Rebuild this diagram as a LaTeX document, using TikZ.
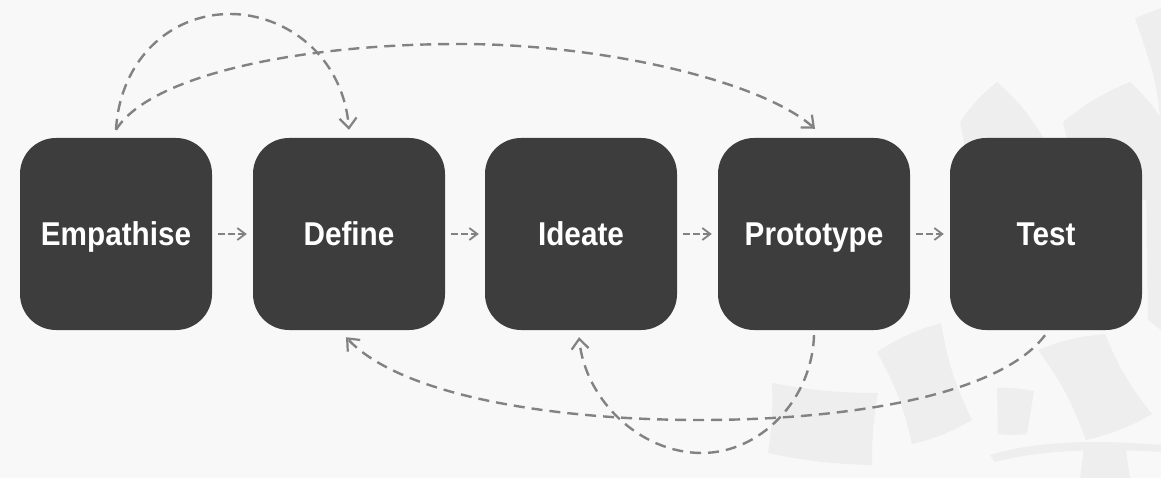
\documentclass[tikz,border=0pt]{standalone}
\usepackage{fontspec}
\newfontfamily\boxfont{Liberation Sans}[FakeStretch=0.9]
\usetikzlibrary{arrows.meta,calc}
\definecolor{bgcol}{HTML}{F8F8F8}
\definecolor{wmcol}{HTML}{EEEEEE}
\definecolor{boxcol}{HTML}{3D3D3D}
\definecolor{linecol}{HTML}{828282}
\tikzset{
  stage/.style={fill=boxcol, rounded corners=36pt, minimum width=192pt, minimum height=192pt,
    inner sep=0pt, text=white, text height=23pt, text depth=0pt,
    font=\boxfont\bfseries\fontsize{33}{36}\selectfont},
  loopline/.style={draw=linecol, line width=2.4pt, dash pattern=on 11pt off 7pt,
    -{Straight Barb[length=10pt,width=17pt,line width=2.2pt]}},
  stepline/.style={draw=linecol, line width=2pt, dash pattern=on 7pt off 3pt,
    -{Straight Barb[length=8pt,width=12pt,line width=1.8pt]}, shorten <=6pt, shorten >=6pt},
  wm/.style={fill=wmcol, draw=none}
}
\begin{document}
\begin{tikzpicture}[x=1pt,y=-1pt]
\fill[bgcol] (0,0) rectangle (1161,478);
\useasboundingbox (0,0) rectangle (1161,478);
% faint watermark shapes
\fill[wm] (1135,18) -- (1161,8) -- (1161,125) .. controls (1156,80) .. (1135,18) -- cycle;
\fill[wm] (960,122) to[bend left=8] (997,82) to[bend left=8] (1043,137) -- (1045,200) -- (975,200) -- cycle;
\fill[wm] (1063,122) to[bend left=8] (1130,82) to[bend left=6] (1161,118) -- (1161,200) -- (1080,200) -- cycle;
\fill[wm] (1146,175) -- (1161,165) -- (1161,330) -- (1148,320) -- cycle;
\fill[wm] (1038,350) to[bend left=8] (1105,334) to[bend right=8] (1152,414) to[bend left=8] (1086,440) to[bend right=8] cycle;
\fill[wm] (997,388) to[bend left=6] (1034,391) -- (1027,434) to[bend left=6] (998,434) -- cycle;
\fill[wm] (877,352) to[bend left=8] (941,323) to[bend right=8] (972,420) to[bend left=8] (912,444) to[bend right=8] cycle;
\fill[wm] (772,383) to[bend right=5] (878,393) to[bend right=5] (872,465) to[bend left=5] (768,453) to[bend right=5] cycle;
\fill[wm] (1084,448) -- (1126,450) -- (1130,478) -- (1080,478) -- cycle;
\fill[wm] (990,455) .. controls (1040,440) and (1100,440) .. (1161,445) -- (1161,452) .. controls (1100,448) and (1040,450) .. (995,462) -- cycle;

% stages
\node[stage] (e) at (116,234) {Empathise};
\node[stage] (d) at (349,234) {Define};
\node[stage] (i) at (581,234) {Ideate};
\node[stage] (p) at (814,234) {Prototype};
\node[stage] (t) at (1046,234) {Test};

% step arrows
\draw[stepline] (e) -- (d);
\draw[stepline] (d) -- (i);
\draw[stepline] (i) -- (p);
\draw[stepline] (p) -- (t);

% loops above
\draw[loopline] ([yshift=8pt]e.north) .. controls (120,60) and (170,14) .. (230,14)
   .. controls (285,14) and (343,55) .. ([yshift=8pt]d.north);
\draw[loopline] ([yshift=8pt]e.north) .. controls (150,75) and (300,44) .. (460,44)
   .. controls (600,44) and (760,80) .. ([xshift=1pt,yshift=9pt]p.north);

% loops below
\draw[loopline] ([xshift=-1pt,yshift=-5pt]t.south) .. controls (1000,395) and (850,420) .. (700,420)
   .. controls (550,420) and (400,395) .. ([xshift=-3pt,yshift=-7pt]d.south);
\draw[loopline] ([yshift=-5pt]p.south) .. controls (812,400) and (760,453) .. (702,453)
   .. controls (640,453) and (585,400) .. ([xshift=-2pt,yshift=-7pt]i.south);
\end{tikzpicture}
\end{document}
